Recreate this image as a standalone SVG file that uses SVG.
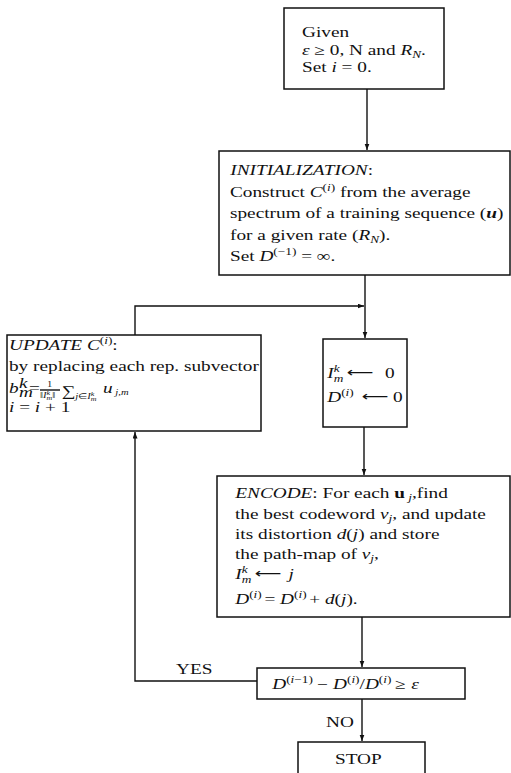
<svg xmlns="http://www.w3.org/2000/svg" width="511" height="773" viewBox="0 0 511 773">
  <style>
    .box { fill: #fff; stroke: #111; stroke-width: 1.5; }
    .wire { fill: none; stroke: #111; stroke-width: 1.4; }
    .t { font-family: "Liberation Serif", "Times New Roman", serif; font-size: 14.5px; fill: #111;
         transform-box: fill-box; transform-origin: 0 0; transform: scaleX(1.33); }
    .it { font-style: italic; }
    .bf { font-weight: bold; }
    .s { font-size: 10px; }
    .xs { font-size: 8px; }
    .ar { font-family: "DejaVu Sans", sans-serif; font-size: 14px; }
  </style>
  <defs>
    <marker id="tip" markerUnits="userSpaceOnUse" markerWidth="7" markerHeight="6" refX="6.5" refY="2.5" orient="auto">
      <path d="M0,0 L6.5,2.5 L0,5 z" fill="#111"/>
    </marker>
  </defs>

  <rect width="511" height="773" fill="#fff"/>

  <!-- connectors -->
  <g id="connectors">
    <path class="wire" d="M367,89 V150" marker-end="url(#tip)"/>
    <path class="wire" d="M365,275 V338" marker-end="url(#tip)"/>
    <path class="wire" d="M135,335 V306 H364" marker-end="url(#tip)"/>
    <path class="wire" d="M364,427 V475" marker-end="url(#tip)"/>
    <path class="wire" d="M362,617 V667" marker-end="url(#tip)"/>
    <path class="wire" d="M257,681 H135 V432" marker-end="url(#tip)"/>
    <path class="wire" d="M362,699 V741" marker-end="url(#tip)"/>
    <text class="t" x="176" y="674">YES</text>
    <text class="t" x="326" y="727">NO</text>
  </g>

  <!-- start -->
  <g id="given">
    <rect class="box" x="284" y="8" width="160" height="81"/>
    <text class="t" x="302" y="37">Given</text>
    <text class="t" x="302" y="55"><tspan class="it">ε</tspan> ≥ 0, N and <tspan class="it">R</tspan><tspan class="s it" dy="3">N</tspan><tspan dy="-3">.</tspan></text>
    <text class="t" x="302" y="72">Set <tspan class="it">i</tspan> = 0.</text>
  </g>

  <!-- initialization -->
  <g id="init">
    <rect class="box" x="219" y="151" width="291" height="124"/>
    <text class="t" x="230" y="175"><tspan class="it">INITIALIZATION</tspan>:</text>
    <text class="t" x="230" y="197">Construct <tspan class="it">C</tspan><tspan class="s" dy="-6">(</tspan><tspan class="s it">i</tspan><tspan class="s">)</tspan><tspan dy="6"> from the average</tspan></text>
    <text class="t" x="230" y="218.5">spectrum of a training sequence (<tspan class="it bf">u</tspan>)</text>
    <text class="t" x="230" y="240">for a given rate (<tspan class="it">R</tspan><tspan class="s it" dy="3">N</tspan><tspan dy="-3">).</tspan></text>
    <text class="t" x="230" y="261">Set <tspan class="it">D</tspan><tspan class="s" dy="-6">(−1)</tspan><tspan dy="6"> = ∞.</tspan></text>
  </g>

  <!-- codebook update -->
  <g id="update">
    <rect class="box" x="7" y="335" width="254" height="96"/>
    <text class="t" x="9" y="350"><tspan class="it">UPDATE C</tspan><tspan class="s" dy="-6">(</tspan><tspan class="s it">i</tspan><tspan class="s">)</tspan><tspan dy="6">:</tspan></text>
    <text class="t" x="9" y="371">by replacing each rep. subvector</text>
    <!-- centroid formula -->
    <text class="t it" x="9" y="393" font-size="13">b</text>
    <text class="t it" x="19" y="388" font-size="8">k</text>
    <text class="t it" x="19" y="397" font-size="8">m</text>
    <text class="t" x="29" y="393">=</text>
    <text class="t xs" x="47" y="387.5">1</text>
    <line class="wire" x1="40" y1="390" x2="60" y2="390" stroke-width="0.8"/>
    <text class="t xs" x="40" y="398.5">‖<tspan class="it">I</tspan><tspan class="it" font-size="6" dy="-3">k</tspan><tspan class="it" font-size="6" dx="-2.7" dy="5">m</tspan><tspan dy="-2">‖</tspan></text>
    <text class="t" x="62" y="396" font-size="12">∑</text>
    <text class="t xs it" x="75" y="399">j<tspan font-style="normal">∈</tspan>I<tspan font-size="6" dy="-3">k</tspan><tspan font-size="6" dx="-2.7" dy="5">m</tspan></text>
    <text class="t it" x="103" y="393" font-size="13">u<tspan class="xs" dy="2"> j,m</tspan></text>
    <text class="t" x="9" y="412"><tspan class="it">i</tspan> = <tspan class="it">i</tspan> + 1</text>
  </g>

  <!-- reset -->
  <g id="reset">
    <rect class="box" x="323" y="339" width="84" height="88"/>
    <text class="t" x="327" y="378"><tspan class="it">I</tspan><tspan class="s it" dy="-6">k</tspan><tspan class="s it" dx="-4.4" dy="10">m</tspan></text>
    <text class="t ar" x="347" y="377">⟵</text>
    <text class="t" x="385" y="378">0</text>
    <text class="t" x="327" y="402"><tspan class="it">D</tspan><tspan class="s" dy="-6">(</tspan><tspan class="s it">i</tspan><tspan class="s">)</tspan></text>
    <text class="t ar" x="362" y="401">⟵</text>
    <text class="t" x="393" y="402">0</text>
  </g>

  <!-- encode -->
  <g id="encode">
    <rect class="box" x="217" y="476" width="293" height="141"/>
    <text class="t" x="235" y="498"><tspan class="it">ENCODE</tspan>: For each <tspan class="bf">u</tspan><tspan class="s it" dy="3"> j</tspan><tspan dy="-3">,find</tspan></text>
    <text class="t" x="235" y="519">the best codeword <tspan class="it">v</tspan><tspan class="s it" dy="3">j</tspan><tspan dy="-3">, and update</tspan></text>
    <text class="t" x="235" y="539">its distortion <tspan class="it">d</tspan>(<tspan class="it">j</tspan>) and store</text>
    <text class="t" x="235" y="559">the path-map of <tspan class="it">v</tspan><tspan class="s it" dy="3">j</tspan><tspan dy="-3">,</tspan></text>
    <text class="t" x="235" y="579"><tspan class="it">I</tspan><tspan class="s it" dy="-6">k</tspan><tspan class="s it" dx="-4.4" dy="10">m</tspan></text>
    <text class="t ar" x="255" y="578">⟵</text>
    <text class="t it" x="288" y="579">j</text>
    <text class="t" x="235" y="604"><tspan class="it">D</tspan><tspan class="s" dy="-6">(</tspan><tspan class="s it">i</tspan><tspan class="s">)</tspan><tspan dy="6" dx="2">= </tspan><tspan class="it">D</tspan><tspan class="s" dy="-6">(</tspan><tspan class="s it">i</tspan><tspan class="s">)</tspan><tspan dy="6" dx="2">+ </tspan><tspan class="it">d</tspan>(<tspan class="it">j</tspan>).</text>
  </g>

  <!-- convergence test -->
  <g id="test">
    <rect class="box" x="257" y="668" width="208" height="31"/>
    <text class="t" x="272" y="689"><tspan class="it">D</tspan><tspan class="s" dy="-6">(</tspan><tspan class="s it">i</tspan><tspan class="s">−1)</tspan><tspan dy="6" dx="3">−</tspan><tspan class="it" dx="4">D</tspan><tspan class="s" dy="-6">(</tspan><tspan class="s it">i</tspan><tspan class="s">)</tspan><tspan dy="6">/</tspan><tspan class="it">D</tspan><tspan class="s" dy="-6">(</tspan><tspan class="s it">i</tspan><tspan class="s">)</tspan><tspan dy="6" dx="3">≥</tspan><tspan class="it" dx="4">ε</tspan></text>
  </g>

  <!-- stop -->
  <g id="stop">
    <rect class="box" x="298" y="742" width="127" height="45"/>
    <text class="t" x="335" y="764">STOP</text>
  </g>
</svg>
